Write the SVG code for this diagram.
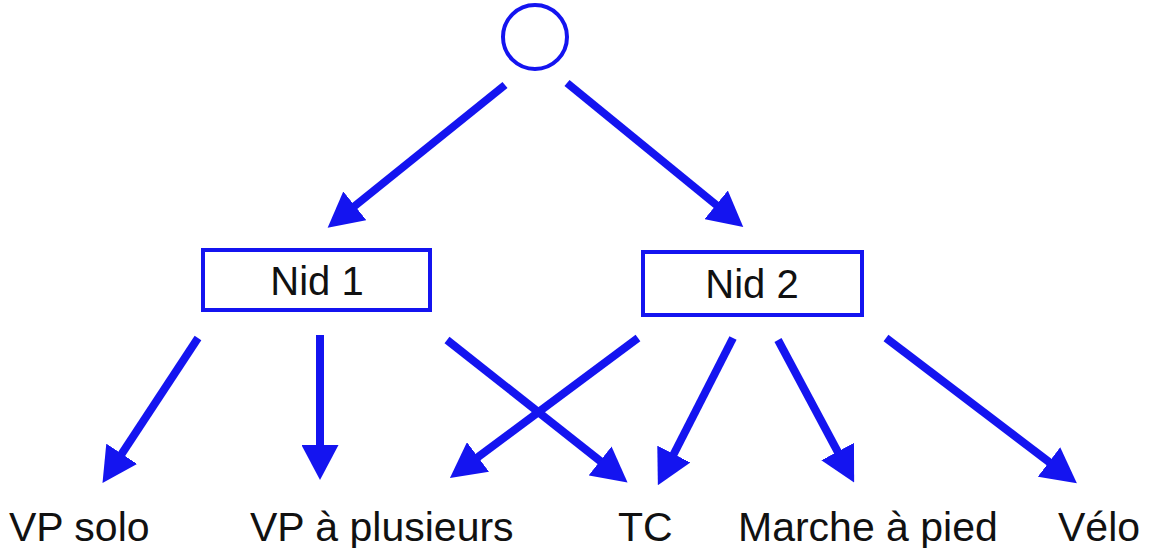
<svg xmlns="http://www.w3.org/2000/svg" width="1151" height="548" viewBox="0 0 1151 548">
  <style>
    .node { fill: #ffffff; stroke: #1414f0; stroke-width: 4; }
    .lbl { font-family: "Liberation Sans", Arial, sans-serif; font-size: 40px; fill: #111111; }
    .edge { stroke: #1414f0; stroke-width: 8; fill: none; marker-end: url(#ah); }
  </style>
  <defs>
    <marker id="ah" viewBox="0 0 35 37" refX="5" refY="18.5" markerWidth="35" markerHeight="37" markerUnits="userSpaceOnUse" orient="auto">
      <path d="M0,0 L35,18.5 L0,37 z" fill="#1414f0"/>
    </marker>
  </defs>
  <rect width="1151" height="548" fill="#ffffff"/>
  <g id="root">
    <circle class="node" cx="535" cy="37" r="32"/>
  </g>
  <g id="nid1">
    <rect class="node" x="203" y="250" width="227" height="60"/>
    <text class="lbl" x="317" y="295" text-anchor="middle">Nid 1</text>
  </g>
  <g id="nid2">
    <rect class="node" x="643" y="252" width="219" height="63"/>
    <text class="lbl" x="752" y="298" text-anchor="middle">Nid 2</text>
  </g>
  <g id="vpsolo"><text class="lbl" x="9" y="541" style="font-size:41px">VP solo</text></g>
  <g id="vpplus"><text class="lbl" x="250" y="541" style="font-size:41px">VP à plusieurs</text></g>
  <g id="tc"><text class="lbl" x="618" y="541" style="font-size:41px">TC</text></g>
  <g id="marche"><text class="lbl" x="738" y="541" style="font-size:41px">Marche à pied</text></g>
  <g id="velo"><text class="lbl" x="1058" y="541" style="font-size:41px">Vélo</text></g>
  <g id="connectors">
    <line class="edge" x1="505" y1="85" x2="351" y2="209"/>
    <line class="edge" x1="567" y1="83" x2="720" y2="208"/>
    <line class="edge" x1="198" y1="338" x2="119" y2="458"/>
    <line class="edge" x1="320" y1="335" x2="320" y2="450"/>
    <line class="edge" x1="447" y1="340" x2="604" y2="464"/>
    <line class="edge" x1="638" y1="338" x2="474" y2="460"/>
    <line class="edge" x1="733" y1="338" x2="671.5" y2="458.5"/>
    <line class="edge" x1="778" y1="340" x2="840" y2="456"/>
    <line class="edge" x1="886" y1="338" x2="1053" y2="465"/>
  </g>
</svg>
